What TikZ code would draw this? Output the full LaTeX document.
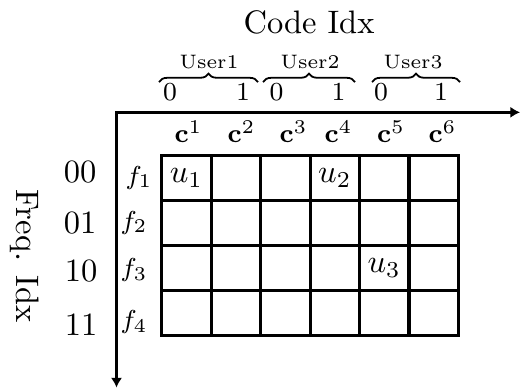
\documentclass[tikz,border=0pt]{standalone}
\usetikzlibrary{arrows.meta,decorations.pathreplacing}
\begin{document}
\begin{tikzpicture}[x=0.30769pt,y=-0.30769pt,
  cell/.style={draw,line width=0.95pt,minimum width=15.215pt,minimum height=13.8pt,inner sep=0pt,anchor=center},
  axis/.style={line width=0.95pt,{Latex[length=3pt,width=3.5pt]}-{Latex[length=3pt,width=3.5pt]}},
  ubrace/.style={decorate,decoration={brace,amplitude=2.6pt},line width=0.55pt},
  lbl/.style={inner sep=0pt,anchor=base},
  userlbl/.style={lbl,font=\fontsize{6}{7}\selectfont},
  bitlbl/.style={lbl,font=\footnotesize},
  codelbl/.style={lbl,font=\footnotesize},
  freqlbl/.style={lbl,font=\footnotesize},
  rowlbl/.style={lbl},
  ulbl/.style={inner sep=0pt,anchor=center}
]
\useasboundingbox (0,0) rectangle (520,389);
% grid
\foreach \i in {1,...,4}{
  \foreach \j in {1,...,6}{
    \node[cell] (c-\i-\j) at ({161.7+49.45*(\j-0.5)},{155.7+44.85*(\i-0.5)}) {};
  }
}
\node[ulbl] (u1) at (c-1-1.center) {$u_1$};
\node[ulbl] (u2) at (c-1-4.center) {$u_2$};
\node[ulbl] (u3) at (c-3-5.center) {$u_3$};
% axes
\coordinate (O) at (116.5,112.3);
\coordinate (XE) at (520,112.3);
\coordinate (YE) at (116.5,387.5);
\draw[axis] (XE) -- (O) -- (YE);
% title
\node[lbl] (title) at (309,33.3) {Code Idx};
\node[lbl,rotate=-90] (ftitle) at (16.7,256) {Freq. Idx};
% users and braces
\node[userlbl] (user1) at (209,68.3) {User1};
\node[userlbl] (user2) at (310,68.3) {User2};
\node[userlbl] (user3) at (413,68.3) {User3};
\coordinate (b1a) at (159,82); \coordinate (b1b) at (258,82);
\coordinate (b2a) at (263,82); \coordinate (b2b) at (355,82);
\coordinate (b3a) at (372,82); \coordinate (b3b) at (460,82);
\draw[ubrace] (b1a) -- (b1b);
\draw[ubrace] (b2a) -- (b2b);
\draw[ubrace] (b3a) -- (b3b);
\node[bitlbl] (d1) at (170,100.7) {0};
\node[bitlbl] (d2) at (243,100.7) {1};
\node[bitlbl] (d3) at (276.5,100.7) {0};
\node[bitlbl] (d4) at (338.5,100.7) {1};
\node[bitlbl] (d5) at (381,100.7) {0};
\node[bitlbl] (d6) at (441,100.7) {1};
% code labels
\node[codelbl] (k1) at (188.5,142.7) {$\mathbf{c}^1$};
\node[codelbl] (k2) at (241.5,142.7) {$\mathbf{c}^2$};
\node[codelbl] (k3) at (293.5,142.7) {$\mathbf{c}^3$};
\node[codelbl] (k4) at (338.5,142.7) {$\mathbf{c}^4$};
\node[codelbl] (k5) at (391,142.7) {$\mathbf{c}^5$};
\node[codelbl] (k6) at (442.5,142.7) {$\mathbf{c}^6$};
% freq labels
\node[freqlbl] (f1) at (139,184) {$f_1$};
\node[freqlbl] (f2) at (134,229) {$f_2$};
\node[freqlbl] (f3) at (134,276.5) {$f_3$};
\node[freqlbl] (f4) at (134,328.5) {$f_4$};
\node[rowlbl] (r1) at (80,182.5) {00};
\node[rowlbl] (r2) at (80,233) {01};
\node[rowlbl] (r3) at (81,281.7) {10};
\node[rowlbl] (r4) at (81,335) {11};
\end{tikzpicture}
\end{document}
